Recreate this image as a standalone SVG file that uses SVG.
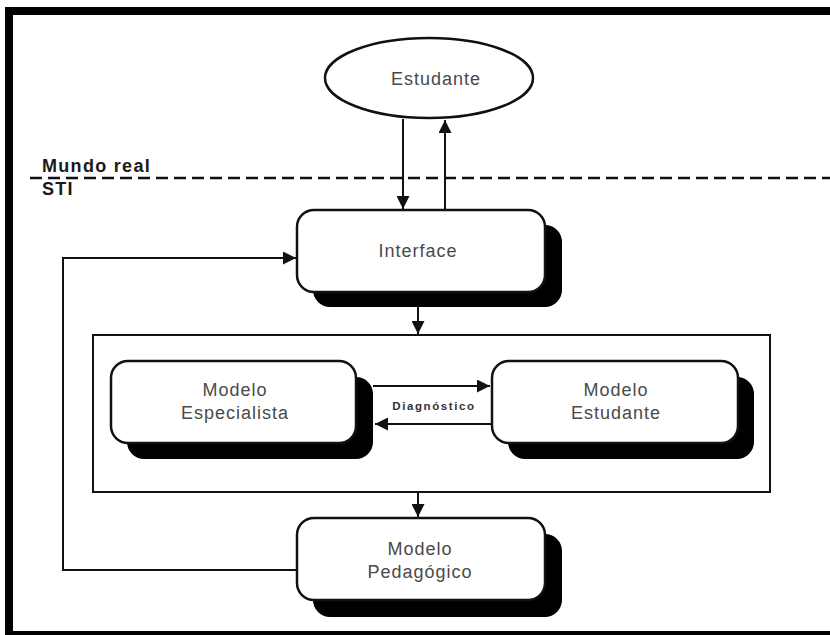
<svg xmlns="http://www.w3.org/2000/svg" width="830" height="635" viewBox="0 0 830 635">
  <style>
    .box { fill: #ffffff; stroke: #111111; stroke-width: 2.5; }
    .shadow { fill: #000000; stroke: none; }
    .lbl { font-family: "Liberation Sans", Arial, sans-serif; font-size: 18px; fill: #4a4a4a; text-anchor: middle; letter-spacing: 1px; }
    .zone { font-family: "Liberation Sans", Arial, sans-serif; font-size: 18px; font-weight: bold; fill: #1a1a1a; letter-spacing: 1.3px; }
    .edge { fill: none; stroke: #111111; stroke-width: 2; }
    .small { font-family: "Liberation Sans", Arial, sans-serif; font-size: 11.5px; font-weight: bold; fill: #333333; text-anchor: middle; letter-spacing: 1.6px; }
  </style>
  <defs>
    <marker id="arrow" viewBox="0 0 10 10" refX="10" refY="5" markerWidth="6.5" markerHeight="6.5" markerUnits="strokeWidth" orient="auto">
      <path d="M0,0 L10,5 L0,10 Z" fill="#111111"/>
    </marker>
  </defs>

  <!-- page background and outer frame -->
  <rect x="0" y="0" width="830" height="635" fill="#ffffff"/>
  <rect x="9" y="11" width="830" height="624" fill="none" stroke="#000000" stroke-width="8"/>

  <!-- boundary between real world and the tutoring system -->
  <g id="boundary">
    <line x1="30" y1="178" x2="830" y2="178" stroke="#111111" stroke-width="2.5" stroke-dasharray="12 6"/>
    <text class="zone" x="42" y="172">Mundo real</text>
    <text class="zone" x="42" y="195">STI</text>
  </g>

  <!-- container for the specialist and student models -->
  <g id="container">
    <rect x="93" y="335" width="677" height="157" fill="none" stroke="#111111" stroke-width="2"/>
  </g>

  <g id="connectors">
    <line class="edge" x1="403" y1="119" x2="403" y2="209" marker-end="url(#arrow)"/>
    <line class="edge" x1="445" y1="209" x2="445" y2="120" marker-end="url(#arrow)"/>
    <line class="edge" x1="418" y1="307" x2="418" y2="334" marker-end="url(#arrow)"/>
    <line class="edge" x1="418" y1="492" x2="418" y2="517" marker-end="url(#arrow)"/>
    <polyline class="edge" points="297,570 63,570 63,258 296,258" marker-end="url(#arrow)"/>
    <line class="edge" x1="373" y1="386" x2="490" y2="386" marker-end="url(#arrow)"/>
    <line class="edge" x1="492" y1="424" x2="375" y2="424" marker-end="url(#arrow)"/>
    <text class="small" x="434" y="410">Diagnóstico</text>
  </g>

  <g id="estudante">
    <ellipse cx="429" cy="78" rx="104" ry="40" class="box"/>
    <text class="lbl" x="436" y="85">Estudante</text>
  </g>

  <g id="interface">
    <rect class="shadow" x="313" y="225" width="249" height="82" rx="17"/>
    <rect class="box" x="297" y="210" width="248" height="82" rx="17"/>
    <text class="lbl" x="418" y="257">Interface</text>
  </g>

  <g id="modelo-especialista">
    <rect class="shadow" x="127" y="377" width="246" height="82" rx="17"/>
    <rect class="box" x="111" y="361" width="245" height="82" rx="17"/>
    <text class="lbl" x="235" y="396">Modelo</text>
    <text class="lbl" x="235" y="419">Especialista</text>
  </g>

  <g id="modelo-estudante">
    <rect class="shadow" x="508" y="377" width="246" height="82" rx="17"/>
    <rect class="box" x="492" y="361" width="246" height="82" rx="17"/>
    <text class="lbl" x="616" y="396">Modelo</text>
    <text class="lbl" x="616" y="419">Estudante</text>
  </g>

  <g id="modelo-pedagogico">
    <rect class="shadow" x="313" y="534" width="249" height="83" rx="17"/>
    <rect class="box" x="297" y="518" width="248" height="82" rx="17"/>
    <text class="lbl" x="420" y="555">Modelo</text>
    <text class="lbl" x="420" y="578">Pedagógico</text>
  </g>
</svg>
